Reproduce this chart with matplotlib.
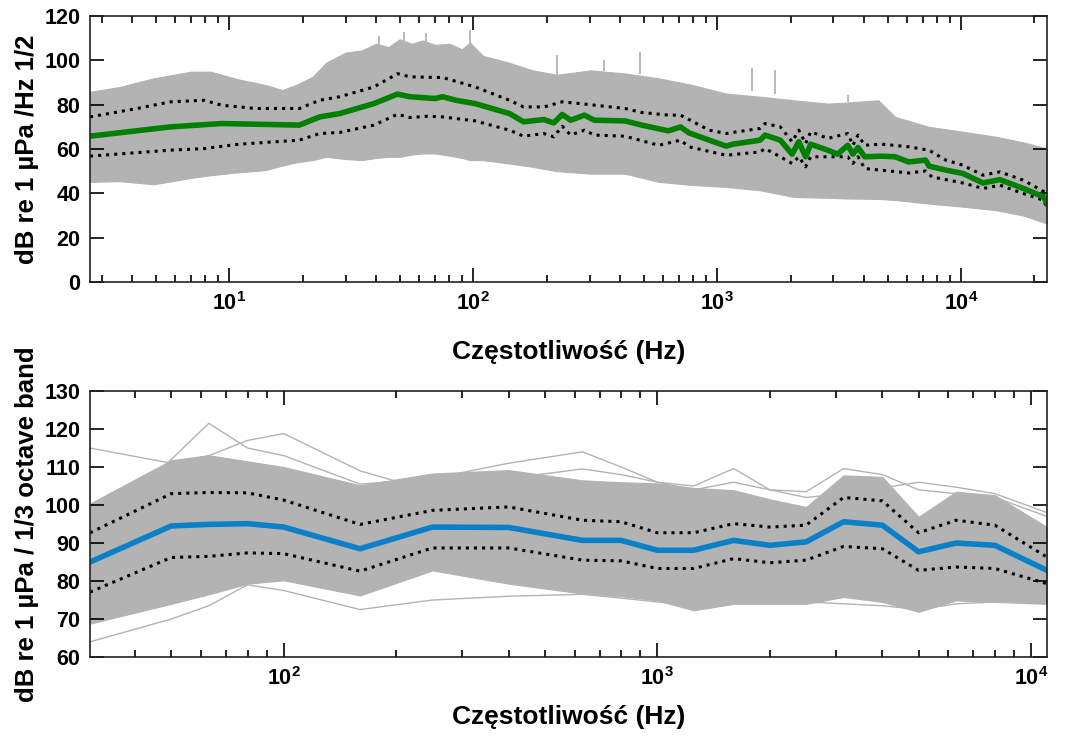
import numpy as np
import matplotlib
matplotlib.use('Agg')
import matplotlib.pyplot as plt
from matplotlib.ticker import FuncFormatter, LogLocator, MultipleLocator

plt.rcParams['font.family'] = ['Liberation Sans', 'DejaVu Sans']
plt.rcParams['font.weight'] = 'bold'
plt.rcParams['mathtext.fontset'] = 'custom'
plt.rcParams['mathtext.rm'] = 'Liberation Sans:bold'
plt.rcParams['mathtext.bf'] = 'Liberation Sans:bold'

# --- widmo gestosci mocy (panel gorny) ---
f_med1 = [2.69, 5.75, 9.3, 19.4, 23.5, 28.4, 39.2, 49, 55, 69.7, 75, 85, 102, 141, 161,
          195, 214, 232, 251, 286, 314, 419, 491, 632, 708, 767, 929, 1090, 1161, 1500,
          1573, 1817, 2030, 2163, 2306, 2420, 2840, 3120, 3433, 3603, 3782, 4030, 4728,
          5370, 6100, 7160, 7390, 8660, 10170, 12300, 14420, 18030, 21830, 22500]
med1 = [65.8, 70.0, 71.5, 70.8, 74.5, 76.0, 80.5, 84.8, 83.6, 82.8, 83.6, 82.0, 80.5, 76.0, 72.3,
        73.3, 71.8, 75.6, 73.0, 75.3, 73.0, 72.7, 70.8, 68.2, 70.0, 67.3, 64.0, 61.3, 62.2, 64.0,
        66.3, 64.0, 57.7, 63.3, 56.5, 62.2, 59.5, 57.7, 61.7, 57.7, 60.7, 56.5, 56.8,
        56.5, 54.2, 55.0, 52.3, 50.5, 49.0, 44.7, 46.2, 42.2, 38.4, 35.4]

f_hi1 = [2.69, 4.2, 5.75, 7.9, 9.3, 12.8, 16.5, 19.4, 23.5, 28.4, 39.2, 49, 55, 69.7, 75,
         102, 141, 161, 195, 232, 286, 419, 491, 632, 708, 929, 1090, 1161, 1500, 1573,
         1817, 2030, 2163, 2306, 2420, 2840, 3433, 3603, 3782, 4030, 4728, 6100, 7390,
         8660, 10170, 12300, 14420, 18030, 22500]
hi1 = [74.5, 78.3, 81.3, 82.0, 79.8, 78.3, 78.3, 78.3, 82.0, 83.6, 88.0, 94.0, 92.6, 92.3, 92.3,
       88.0, 82.0, 79.0, 79.0, 81.3, 80.3, 78.3, 76.5, 75.3, 75.3, 68.5, 67.0, 67.5, 69.3, 71.5,
       70.0, 63.3, 68.5, 62.5, 67.8, 64.8, 67.0, 61.7, 66.3, 61.7, 62.2, 61.0, 59.5,
       55.0, 52.7, 48.2, 49.7, 45.9, 40.0]

f_lo1 = [2.69, 5.75, 7.9, 11.0, 19.4, 23.5, 28.4, 39.2, 49, 55, 65, 75, 102, 141, 161,
         195, 214, 232, 251, 286, 314, 419, 576, 708, 767, 1090, 1500, 1573, 1817, 2030,
         2163, 2306, 2420, 3433, 3603, 3782, 4030, 6100, 7160, 7600, 10170, 12300, 14420,
         18030, 21830, 22500]
lo1 = [56.8, 59.5, 60.2, 62.2, 64.0, 67.0, 67.5, 70.8, 75.7, 74.2, 74.8, 74.5, 72.7, 68.5, 65.8,
       67.0, 65.5, 70.3, 66.3, 68.5, 66.3, 65.8, 61.7, 64.0, 61.0, 57.2, 58.7, 60.2, 56.5, 53.5,
       56.5, 52.0, 56.5, 56.5, 53.5, 56.5, 51.2, 49.2, 50.1, 47.4, 44.7, 42.2, 43.7,
       39.9, 36.9, 33.1]

# obwiednia szarego pola (wszystkie widma)
f_env1 = [2.69, 3.56, 4.9, 7.0, 8.4, 10.9, 14.1, 16.5, 18.8, 22.0, 25, 30, 35, 40, 45, 50,
          56, 62, 70, 80, 90, 97, 110, 140, 175, 221, 304, 419, 576, 792, 1090, 1500, 2060,
          2840, 3430, 4580, 5370, 7390, 10170, 13960, 18000, 22500]
env_hi1 = [85.8, 88.0, 91.9, 94.9, 94.9, 91.4, 88.9, 86.6, 88.9, 92.6, 99.0, 103.5, 104.5,
           107.5, 106.0, 109.5, 107.5, 109.0, 107.0, 107.5, 105.0, 108.0, 102.0, 99.0, 95.5,
           93.5, 95.5, 94.1, 91.9, 88.9, 85.0, 83.6, 82.0, 80.5, 81.0, 82.0, 74.5, 70.0,
           67.8, 65.5, 63.0, 60.2]
env_lo1 = [45.2, 45.5, 44.1, 47.0, 48.2, 49.5, 50.5, 52.5, 54.0, 55.0, 56.5, 55.5, 55.0,
           56.0, 56.5, 56.5, 57.5, 58.0, 58.0, 57.0, 56.0, 55.0, 55.0, 53.5, 52.0, 50.0,
           48.9, 48.9, 45.2, 43.8, 42.9, 41.4, 38.4, 38.0, 37.7, 37.5, 37.0, 35.4, 34.0,
           32.4, 30.0, 26.4]
# pojedyncze waskie piki wystajace ponad obwiednie
f_spike = [41, 52, 64, 97, 221, 345, 483, 1384, 1731, 3430]
base_spike = [107, 108, 108, 107, 93, 95, 94, 86, 85, 81]
v_spike = [111, 113, 112.5, 113.7, 102.4, 100, 104, 96.4, 95.6, 84.3]

# --- pasma tercjowe (panel dolny) ---
f_band = [30.3, 50, 63, 80, 100, 160, 250, 400, 630, 800, 1000, 1250, 1600, 2000, 2500,
          3150, 4000, 5000, 6300, 8000, 11030]
med2 = [85.0, 94.5, 94.9, 95.1, 94.2, 88.5, 94.2, 94.1, 90.7, 90.7, 88.1, 88.1, 90.7, 89.4,
        90.3, 95.6, 94.7, 87.7, 90.0, 89.4, 82.8]
hi2 = [92.7, 103.0, 103.3, 103.2, 101.3, 94.9, 98.6, 99.5, 96.0, 95.6, 92.7, 92.7, 95.1, 94.2,
       94.7, 102.0, 101.1, 92.7, 96.0, 94.7, 86.3]
lo2 = [77.1, 86.2, 86.5, 87.4, 87.2, 82.6, 88.7, 88.7, 85.5, 85.3, 83.3, 83.3, 85.9, 84.8,
       85.5, 89.1, 88.5, 82.8, 83.7, 83.3, 79.3]
env_hi2 = [100.4, 111.8, 113.1, 111.5, 110.0, 105.2, 108.3, 109.2, 106.5, 106.0, 105.7, 104.5,
           103.9, 101.5, 99.5, 107.8, 107.4, 96.9, 103.5, 102.6, 94.2]
env_lo2 = [68.8, 74.0, 76.5, 79.3, 80.2, 76.2, 82.8, 79.3, 76.7, 76.0, 74.9, 72.3, 74.0, 74.0,
           74.0, 75.8, 74.5, 71.9, 74.9, 74.5, 74.0]
# pojedyncze odstajace widma
out_a = [64.0, 70.0, 73.5, 79.0, 77.5, 72.5, 75.0, 76.0, 76.5, 75.5, 74.5, 73.5, 75.0, 75.0,
         74.5, 74.0, 73.5, 72.5, 74.0, 74.5, 75.0]
out_b = [92.0, 112.0, 121.5, 115.0, 113.0, 105.5, 107.0, 111.0, 114.0, 110.0, 106.0, 105.0,
         109.6, 104.0, 103.5, 109.6, 108.0, 104.0, 103.0, 102.0, 97.0]
out_c = [115.0, 111.0, 113.0, 117.0, 118.8, 109.0, 103.5, 107.0, 109.5, 108.0, 106.0, 104.0,
         106.0, 104.0, 102.0, 103.0, 104.5, 106.0, 104.7, 103.0, 98.0]

GREY = '#b3b3b3'
GREEN = '#008000'
BLUE = '#0a80c8'

fig = plt.figure(figsize=(10.69, 7.36), dpi=100)
ax1 = fig.add_axes([0.0842, 0.6168, 0.8952, 0.3614])
ax2 = fig.add_axes([0.0842, 0.1073, 0.8952, 0.3614])


def log_fmt(x, pos):
    n = int(round(np.log10(x)))
    return r'$\mathbf{10^{%d}}$' % n


def style(ax, pad):
    ax.set_xscale('log')
    ax.tick_params(which='both', direction='in', top=True, right=True, labelsize=15.5,
                   width=1.2)
    ax.tick_params(which='major', length=10, pad=7)
    ax.tick_params(which='minor', length=5)
    ax.xaxis.set_major_locator(LogLocator(base=10, numticks=10))
    ax.xaxis.set_minor_locator(LogLocator(base=10, subs=np.arange(2, 10), numticks=20))
    ax.xaxis.set_major_formatter(FuncFormatter(log_fmt))
    for s in ax.spines.values():
        s.set_linewidth(1.2)
        s.set_color('#222222')
    for lab in ax.get_yticklabels():
        lab.set_fontweight('bold')
    ax.set_xlabel('Częstotliwość (Hz)', fontsize=19, fontweight='bold', labelpad=pad)


# panel gorny
ax1.fill_between(f_env1, env_lo1, env_hi1, color=GREY, lw=0.8, edgecolor=GREY)
ax1.vlines(f_spike, base_spike, v_spike, color=GREY, lw=1.3)
ax1.plot(f_hi1, hi1, color='black', ls=':', lw=2.2)
ax1.plot(f_lo1, lo1, color='black', ls=':', lw=2.2)
ax1.plot(f_med1, med1, color=GREEN, lw=4)
ax1.set_xlim(2.69, 22500)
ax1.set_ylim(0, 120)
ax1.yaxis.set_major_locator(MultipleLocator(20))
ax1.set_ylabel('dB re 1 µPa /Hz 1/2', fontsize=18.5, fontweight='bold', labelpad=4)
style(ax1, 18)

# panel dolny
ax2.fill_between(f_band, env_lo2, env_hi2, color=GREY, lw=0.8, edgecolor=GREY)
for o in (out_a, out_b, out_c):
    ax2.plot(f_band, o, color=GREY, lw=1)
ax2.plot(f_band, hi2, color='black', ls=':', lw=2.2)
ax2.plot(f_band, lo2, color='black', ls=':', lw=2.2)
ax2.plot(f_band, med2, color=BLUE, lw=4)
ax2.set_xlim(30.3, 11030)
ax2.set_ylim(60, 130)
ax2.yaxis.set_major_locator(MultipleLocator(10))
ax2.set_ylabel('dB re 1 µPa / 1/3 octave band', fontsize=18.5, fontweight='bold', labelpad=4)
style(ax2, 11)

fig.savefig('out.png', dpi=100)
